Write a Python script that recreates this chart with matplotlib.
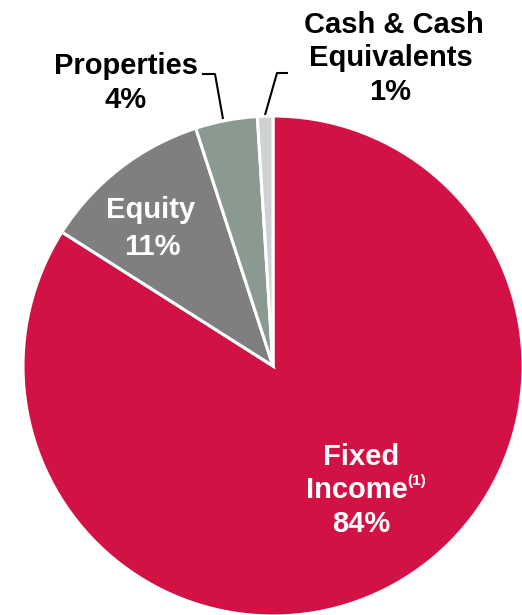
import matplotlib
matplotlib.use("Agg")
import matplotlib.pyplot as plt

categories = ["Fixed Income", "Equity", "Properties", "Cash & Cash Equivalents"]
shares = [84, 11, 4, 1]
colors = ["#D21245", "#7F7F7F", "#8A9A91", "#D0D1D3"]

W, H = 522, 615
fig = plt.figure(figsize=(W / 100, H / 100), dpi=100)
ax = fig.add_axes([0, 0, 1, 1])

ax.pie(shares, colors=colors, startangle=90, counterclock=False, radius=1.0,
       wedgeprops=dict(edgecolor="white", linewidth=2.2))

# pie centre and radius in pixels; axes limits map 1 data unit to R pixels
CX, CY, R = 273, 366, 250
ax.set_aspect("auto")
ax.set_xlim(-CX / R, (W - CX) / R)
ax.set_ylim(-(H - CY) / R, CY / R)
ax.axis("off")


def P(px, py):
    return ((px - CX) / R, (CY - py) / R)


font = dict(family=["Liberation Sans", "DejaVu Sans"], fontweight="bold", fontsize=21)

# labels inside slices
for txt, (px, py) in [("Fixed", (361, 465)), ("Income", (357, 498)),
                      (f"{shares[0]}%", (361, 532))]:
    ax.text(*P(px, py), txt, color="white", ha="center", va="baseline", **font)
ax.text(*P(407, 485), "(1)", color="white", ha="left", va="baseline",
        family=["Liberation Sans"], fontweight="bold", fontsize=11)

for txt, (px, py) in [("Equity", (151, 218)), (f"{shares[1]}%", (152, 255))]:
    ax.text(*P(px, py), txt, color="white", ha="center", va="baseline", **font)

# labels outside the pie with leader lines
for txt, (px, py) in [("Properties", (126, 74)), (f"{shares[2]}%", (126, 108))]:
    ax.text(*P(px, py), txt, color="black", ha="center", va="baseline", **font)
for txt, (px, py) in [("Cash & Cash", (394, 33)), ("Equivalents", (391, 66)),
                      (f"{shares[3]}%", (390, 100))]:
    ax.text(*P(px, py), txt, color="black", ha="center", va="baseline", **font)

for pts in [[(202, 74), (215, 74), (223, 119)],
            [(288, 73), (277, 73), (265, 115)]]:
    xs, ys = zip(*[P(*p) for p in pts])
    ax.plot(xs, ys, color="black", linewidth=1.5, solid_capstyle="butt")

fig.savefig("out.png", dpi=100)
